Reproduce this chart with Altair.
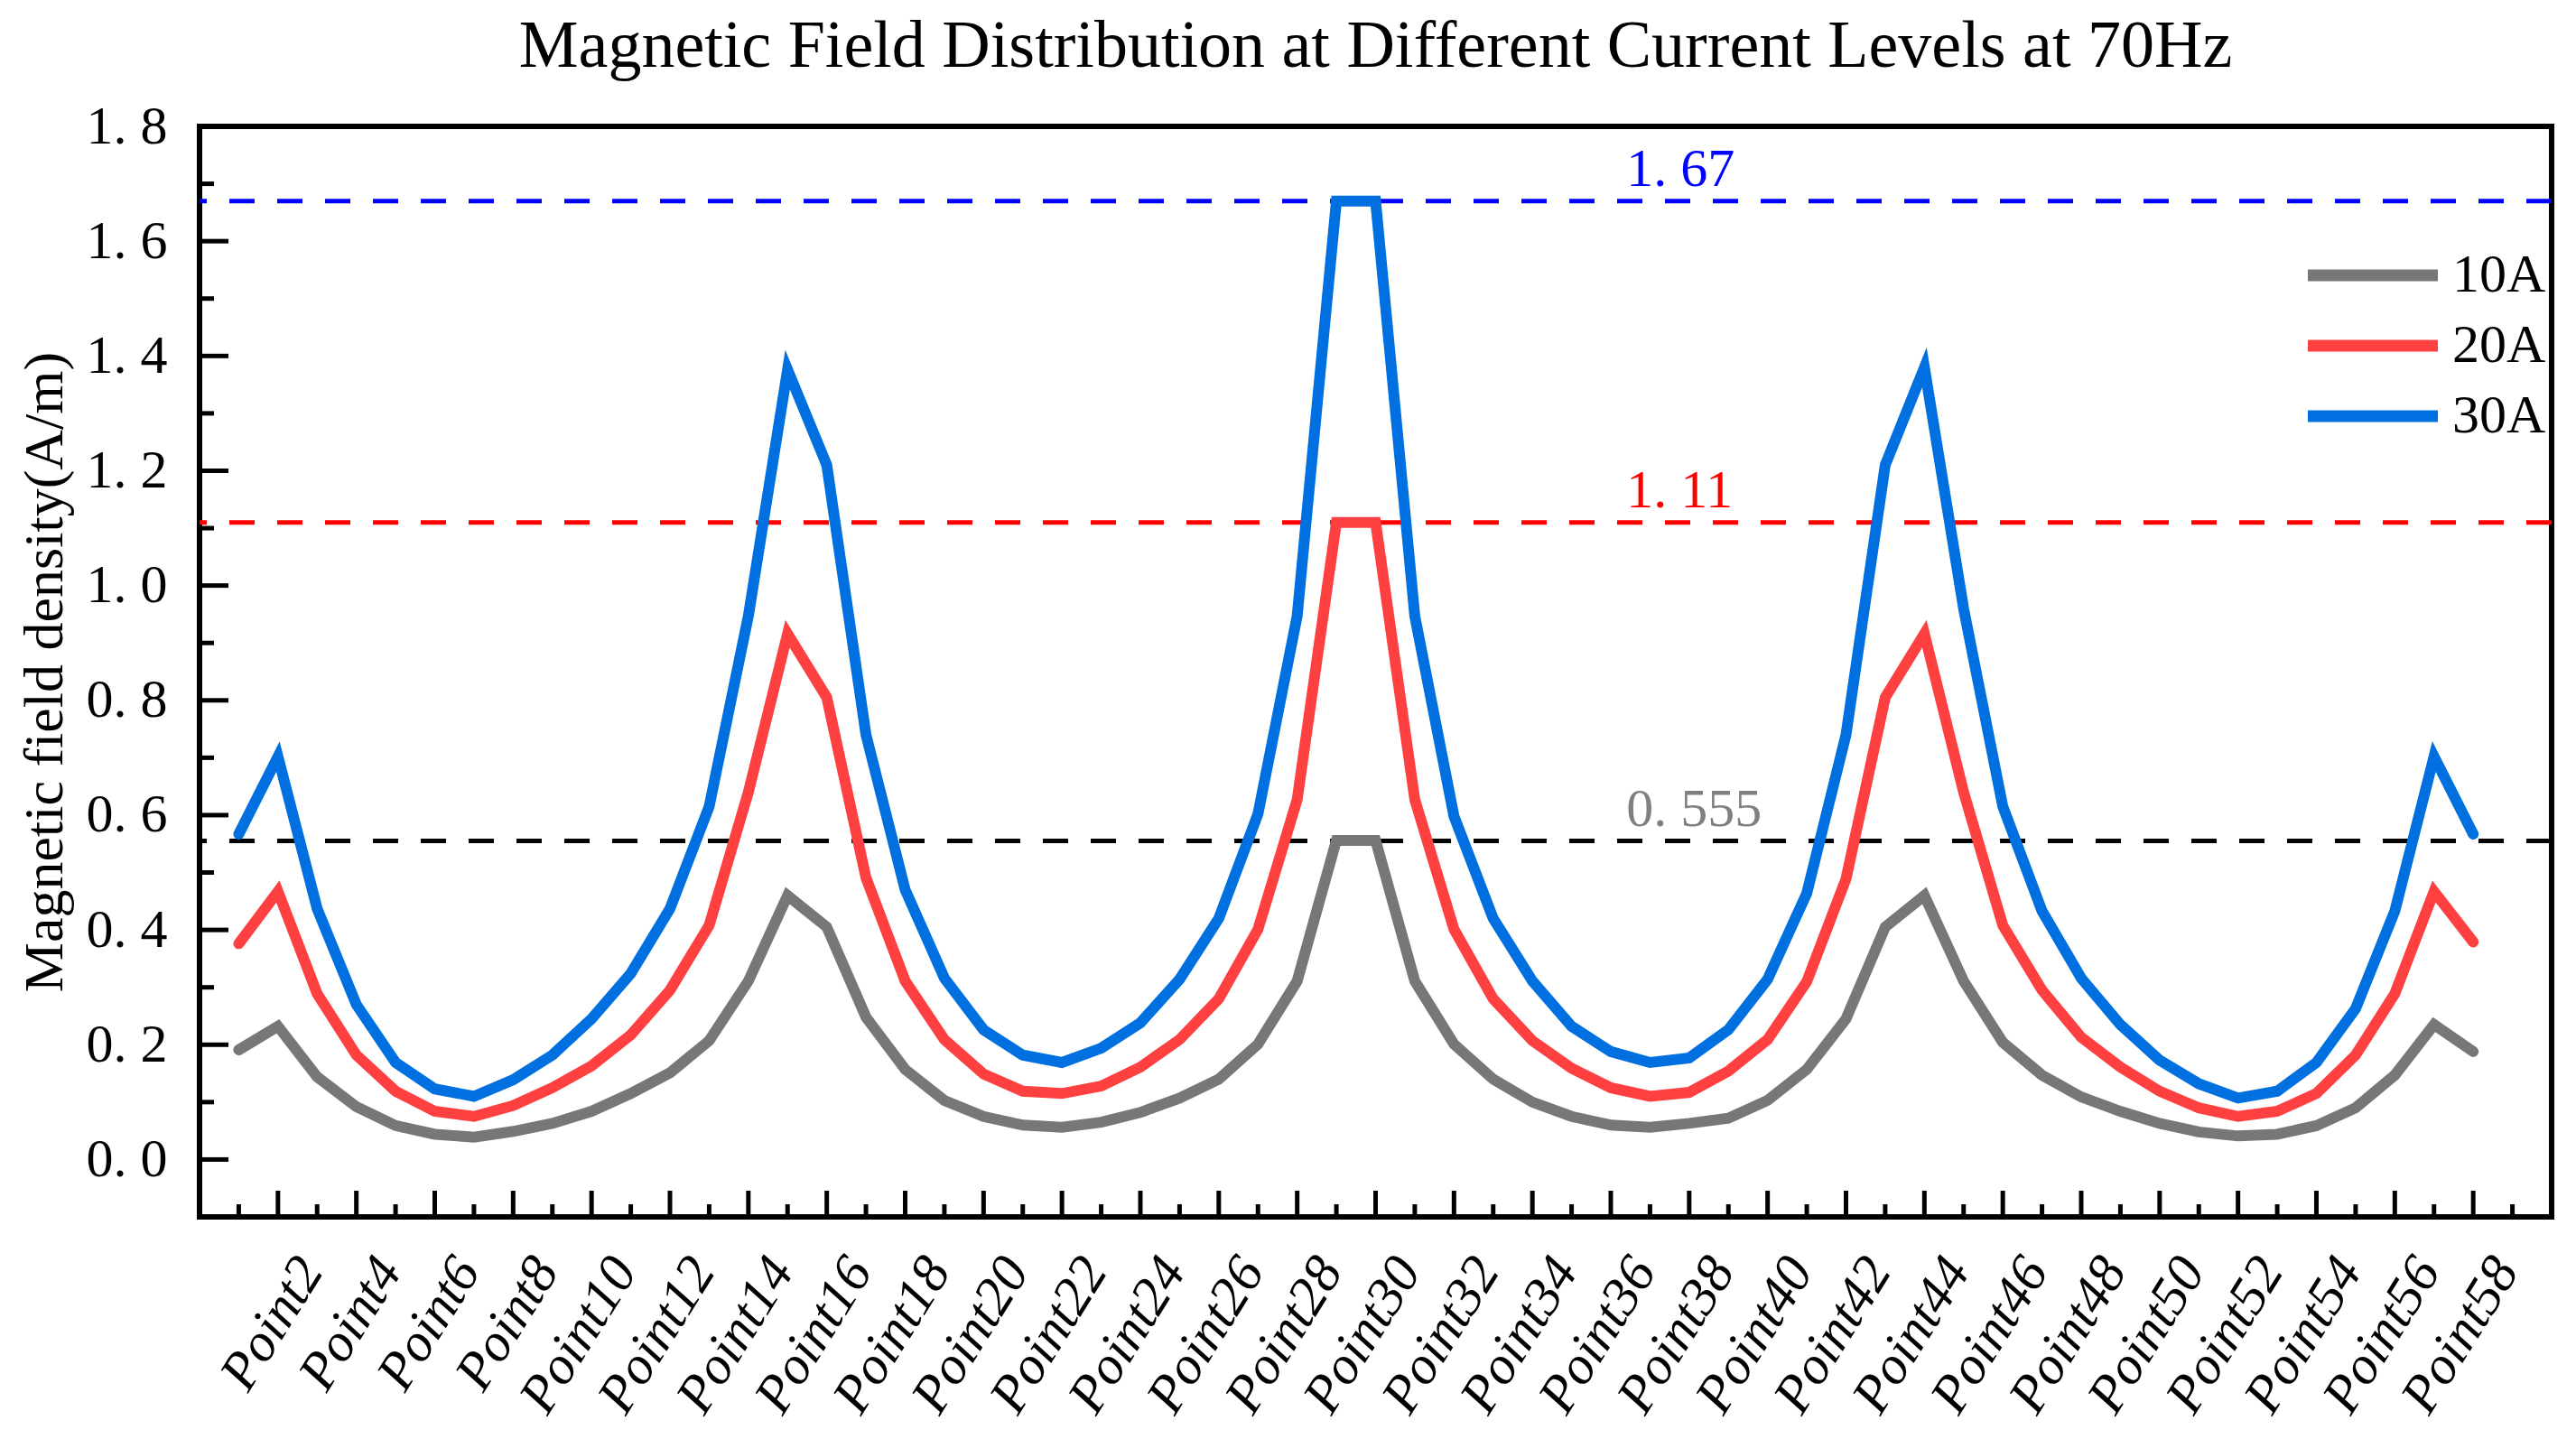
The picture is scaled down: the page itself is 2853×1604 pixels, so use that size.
import altair as alt
import pandas as pd

# values, Point1 .. Point58
points = list(range(1, 59))

b_10a = [0.191, 0.232, 0.144, 0.092, 0.059, 0.044, 0.039, 0.049, 0.063, 0.084,
         0.115, 0.151, 0.207, 0.311, 0.460, 0.405, 0.248, 0.157, 0.103, 0.075,
         0.060, 0.056, 0.065, 0.082, 0.107, 0.140, 0.201, 0.311, 0.556, 0.556,
         0.311, 0.201, 0.140, 0.100, 0.075, 0.060, 0.056, 0.063, 0.072, 0.103,
         0.157, 0.245, 0.405, 0.460, 0.311, 0.204, 0.147, 0.109, 0.084, 0.063,
         0.048, 0.041, 0.044, 0.059, 0.090, 0.147, 0.235, 0.188]

b_20a = [0.376, 0.467, 0.289, 0.182, 0.119, 0.084, 0.075, 0.094, 0.125, 0.163,
         0.217, 0.295, 0.408, 0.640, 0.916, 0.805, 0.491, 0.311, 0.209, 0.149,
         0.119, 0.115, 0.128, 0.161, 0.209, 0.280, 0.401, 0.627, 1.110, 1.110,
         0.627, 0.401, 0.280, 0.207, 0.159, 0.125, 0.110, 0.117, 0.154, 0.209,
         0.310, 0.489, 0.805, 0.916, 0.640, 0.408, 0.295, 0.213, 0.161, 0.119,
         0.090, 0.075, 0.084, 0.115, 0.182, 0.289, 0.467, 0.379]

b_30a = [0.567, 0.702, 0.437, 0.270, 0.169, 0.123, 0.110, 0.139, 0.182, 0.245,
         0.324, 0.437, 0.615, 0.947, 1.376, 1.210, 0.740, 0.470, 0.316, 0.226,
         0.182, 0.169, 0.194, 0.238, 0.314, 0.420, 0.602, 0.947, 1.670, 1.670,
         0.947, 0.598, 0.420, 0.311, 0.232, 0.188, 0.169, 0.177, 0.226, 0.314,
         0.464, 0.740, 1.210, 1.380, 0.960, 0.615, 0.433, 0.316, 0.235, 0.173,
         0.132, 0.107, 0.119, 0.169, 0.263, 0.433, 0.702, 0.567]

series_names = ["10A", "20A", "30A"]
series_colors = ["#777777", "#FF4040", "#0070E0"]

# dashed reference levels
ref_values = [1.67, 1.11, 0.555]
ref_labels = ["1. 67", "1. 11", "0. 555"]
ref_line_colors = ["#0000FF", "#FF0000", "#000000"]
ref_text_colors = ["#0000FF", "#FF0000", "#808080"]

# axis ticks
y_major = [0.0, 0.2, 0.4, 0.6, 0.8, 1.0, 1.2, 1.4, 1.6, 1.8]
y_minor = [0.1, 0.3, 0.5, 0.7, 0.9, 1.1, 1.3, 1.5, 1.7]
x_major = list(range(2, 59, 2))
x_minor = list(range(1, 60, 2))

W = 2605
H = 1208
SERIF = "Liberation Serif"


def x_enc(field):
    return alt.X(field, type="quantitative",
                 scale=alt.Scale(domain=[0, 60], nice=False, zero=False),
                 axis=alt.Axis(values=x_major, labelExpr="'Point' + datum.value",
                               labelAngle=-58, labelAlign="right", labelBaseline="middle",
                               labelPadding=50, labelOffset=36, labelFontStyle="italic",
                               labelFontSize=60, labelFont=SERIF, labelColor="black",
                               labelLimit=0, title=None, grid=False, domain=False,
                               ticks=False, tickSize=0, labelOverlap=False))


def y_enc(field):
    return alt.Y(field, type="quantitative",
                 scale=alt.Scale(domain=[-0.1, 1.8], nice=False, zero=False),
                 axis=alt.Axis(values=y_major,
                               labelExpr="replace(format(datum.value, '.1f'), '.', '. ')",
                               labelFontSize=60, labelFont=SERIF, labelColor="black",
                               labelPadding=36, grid=False, domain=False, ticks=False,
                               tickSize=0, title="Magnetic field density(A/m)",
                               titleFont=SERIF, titleFontSize=62, titleFontWeight="normal",
                               titleColor="black", titleX=-172, titleBaseline="middle"))


rows = []
for name, vals in zip(series_names, [b_10a, b_20a, b_30a]):
    for p, v in zip(points, vals):
        rows.append({"point": p, "value": v, "series": name})
lines_df = pd.DataFrame(rows)

ref_df = pd.DataFrame({"value": ref_values, "label": ref_labels,
                       "line_color": ref_line_colors, "text_color": ref_text_colors})

# long flat legend stroke: path spans 4x the nominal symbol size
legend = alt.Legend(title=None, orient="none", legendX=2377, legendY=135,
                    symbolType="M-4,0H4", symbolStrokeWidth=13, symbolSize=1296,
                    labelFont=SERIF, labelFontSize=60, labelColor="black",
                    labelOffset=58, rowPadding=18, padding=0)

lines = alt.Chart(lines_df).mark_line(strokeWidth=12, strokeJoin="miter", strokeCap="round").encode(
    x=x_enc("point"),
    y=y_enc("value"),
    color=alt.Color("series:N", scale=alt.Scale(domain=series_names, range=series_colors),
                    legend=legend),
    detail="series:N"
)

ref_rules = alt.Chart(ref_df).mark_rule(strokeDash=[28, 25], strokeWidth=5).encode(
    y=y_enc("value"),
    color=alt.Color("line_color:N", scale=None)
)

ref_text = alt.Chart(ref_df).mark_text(align="left", baseline="alphabetic", dy=-17,
                                       font=SERIF, fontSize=60).encode(
    x=alt.datum(36.4),
    y=y_enc("value"),
    text="label:N",
    color=alt.Color("text_color:N", scale=None)
)

# inward ticks on the left and bottom frame
y_major_ticks = alt.Chart(pd.DataFrame({"v": y_major})).mark_rule(color="black", strokeWidth=5).encode(
    y=y_enc("v"), x=alt.value(0), x2=alt.value(32))
y_minor_ticks = alt.Chart(pd.DataFrame({"v": y_minor})).mark_rule(color="black", strokeWidth=5).encode(
    y=y_enc("v"), x=alt.value(0), x2=alt.value(16))
x_major_ticks = alt.Chart(pd.DataFrame({"p": x_major})).mark_rule(color="black", strokeWidth=5).encode(
    x=x_enc("p"), y=alt.value(H), y2=alt.value(H - 29))
x_minor_ticks = alt.Chart(pd.DataFrame({"p": x_minor})).mark_rule(color="black", strokeWidth=5).encode(
    x=x_enc("p"), y=alt.value(H), y2=alt.value(H - 14))

chart = alt.layer(
    ref_rules, lines, ref_text, y_major_ticks, y_minor_ticks, x_major_ticks, x_minor_ticks
).properties(
    width=W,
    height=H,
    background="white",
    padding={"left": 213, "top": 132, "right": 19, "bottom": 244},
    autosize=alt.AutoSizeParams(type="none"),
    title=alt.Title("Magnetic Field Distribution at Different Current Levels at 70Hz",
                    font=SERIF, fontSize=74, fontWeight="normal", color="black",
                    anchor="middle", offset=20)
).configure_view(
    stroke="black", strokeWidth=6
)

chart.save("out.html", embed_options={"renderer": "svg", "actions": False})
